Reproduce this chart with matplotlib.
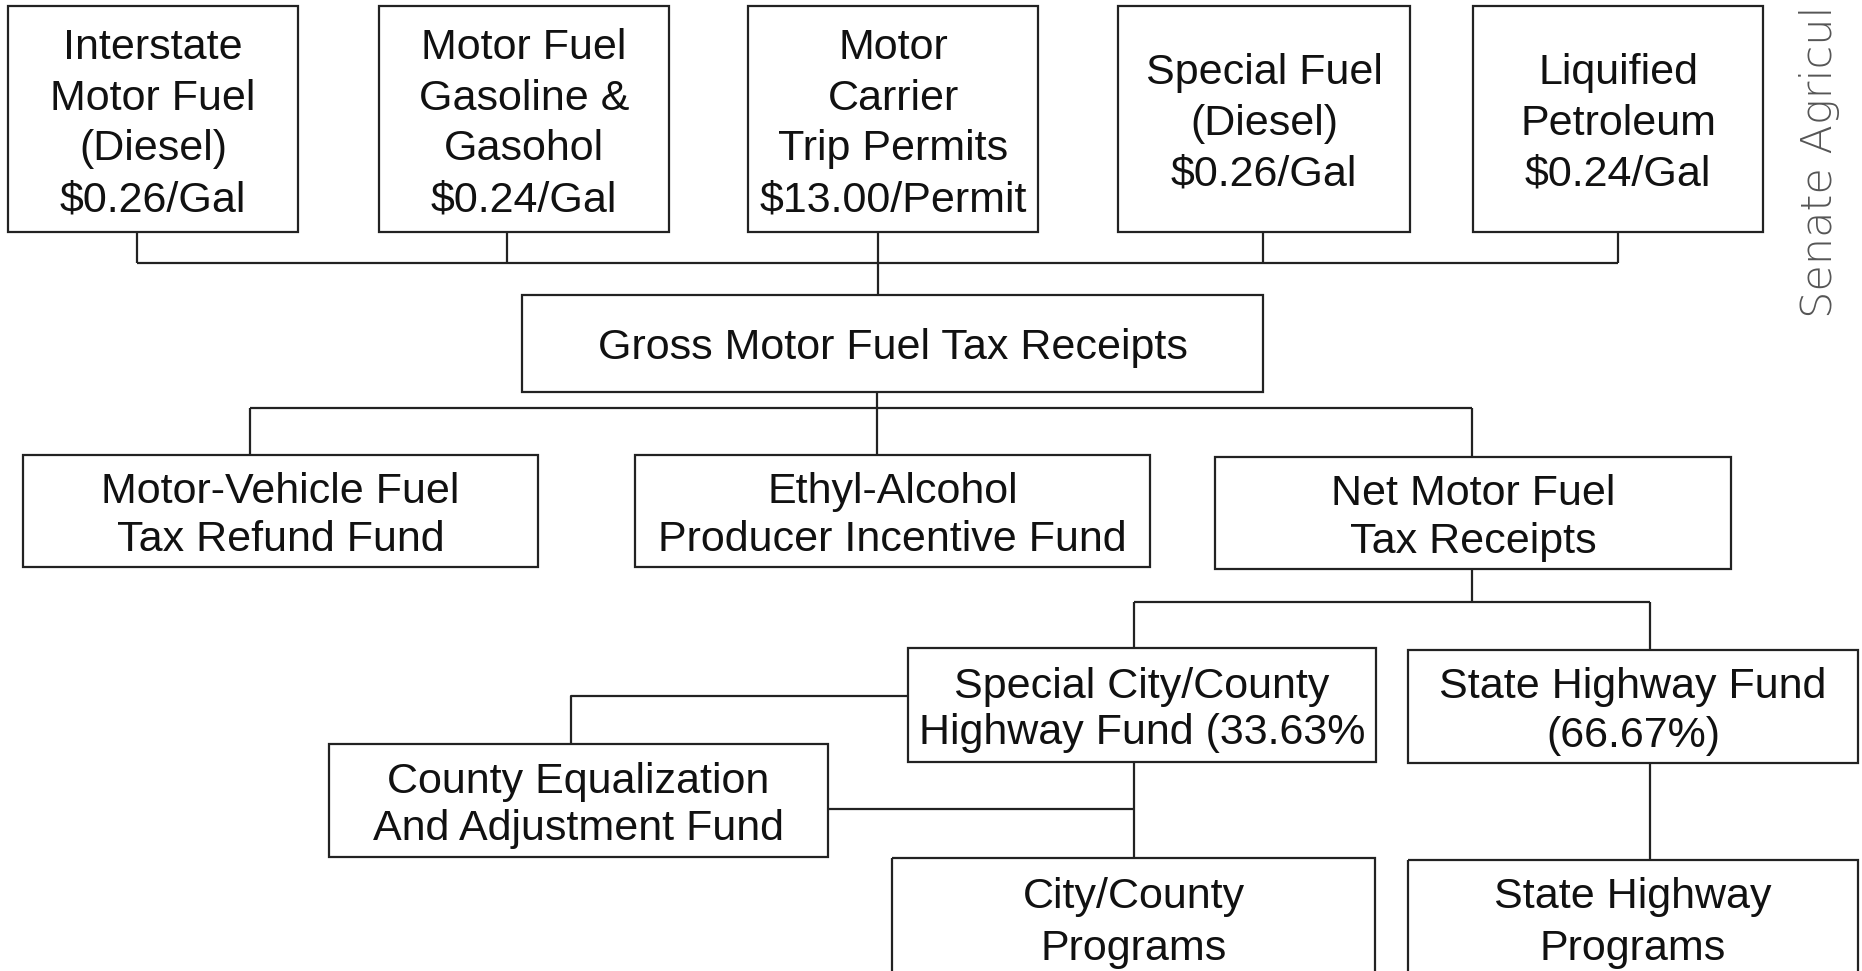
import matplotlib.pyplot as plt
from matplotlib.patches import Rectangle

# box labels, top row first
source_labels = [
    "Interstate\nMotor Fuel\n(Diesel)\n$0.26/Gal",
    "Motor Fuel\nGasoline &\nGasohol\n$0.24/Gal",
    "Motor\nCarrier\nTrip Permits\n$13.00/Permit",
    "Special Fuel\n(Diesel)\n$0.26/Gal",
    "Liquified\nPetroleum\n$0.24/Gal",
]
gross_label = "Gross Motor Fuel Tax Receipts"
split_labels = [
    "Motor-Vehicle Fuel\nTax Refund Fund",
    "Ethyl-Alcohol\nProducer Incentive Fund",
    "Net Motor Fuel\nTax Receipts",
]
fund_labels = [
    "Special City/County\nHighway Fund (33.63%",
    "State Highway Fund\n(66.67%)",
]
county_label = "County Equalization\nAnd Adjustment Fund"
program_labels = [
    "City/County\nPrograms",
    "State Highway\nPrograms",
]
note_text = "Senate Agricul"

# layout in pixels (x0, y0, x1, y1), y downward
source_boxes = [(8, 6, 298, 232), (379, 6, 669, 232), (748, 6, 1038, 232),
                (1118, 6, 1410, 232), (1473, 6, 1763, 232)]
gross_box = (522, 295, 1263, 392)
split_boxes = [(23, 455, 538, 567), (635, 455, 1150, 567), (1215, 457, 1731, 569)]
fund_boxes = [(908, 648, 1376, 762), (1408, 650, 1858, 763)]
county_box = (329, 744, 828, 857)
program_boxes = [(892, 858, 1375, 990), (1408, 860, 1858, 990)]
program_text_y = 918

connectors = [
    [(137, 263), (1618, 263)],
    [(137, 232), (137, 263)],
    [(507, 232), (507, 263)],
    [(878, 232), (878, 295)],
    [(1263, 232), (1263, 263)],
    [(1618, 232), (1618, 263)],
    [(877, 392), (877, 455)],
    [(250, 408), (1472, 408)],
    [(250, 408), (250, 455)],
    [(1472, 408), (1472, 457)],
    [(1472, 569), (1472, 602)],
    [(1134, 602), (1650, 602)],
    [(1134, 602), (1134, 648)],
    [(1650, 602), (1650, 650)],
    [(908, 696), (571, 696), (571, 744)],
    [(1134, 762), (1134, 858)],
    [(828, 809), (1134, 809)],
    [(1650, 763), (1650, 860)],
]

W, H = 1862, 971
fig = plt.figure(figsize=(W / 100, H / 100), dpi=100)
ax = fig.add_axes([0, 0, 1, 1])
ax.set_xlim(0, W)
ax.set_ylim(H, 0)
ax.axis('off')

line_color = '#222222'
font = dict(family='Liberation Sans', fontsize=31, color='#111111')


def draw_box(b, label, ty=None, ls=1.2):
    x0, y0, x1, y1 = b
    ax.add_patch(Rectangle((x0, y0), x1 - x0, y1 - y0, fill=False,
                           edgecolor=line_color, linewidth=1.6))
    if ty is None:
        ty = (y0 + y1) / 2
    ax.text((x0 + x1) / 2, ty + 5, label, ha='center', va='center',
            multialignment='center', linespacing=ls, **font)


for b, lab in zip(source_boxes, source_labels):
    draw_box(b, lab, ls=1.35)
draw_box(gross_box, gross_label)
for b, lab in zip(split_boxes, split_labels):
    draw_box(b, lab, ls=1.25)
draw_box(fund_boxes[0], fund_labels[0], ls=1.22)
draw_box(fund_boxes[1], fund_labels[1], ls=1.32)
draw_box(county_box, county_label, ls=1.22)
for b, lab in zip(program_boxes, program_labels):
    draw_box(b, lab, ty=program_text_y, ls=1.38)

for path in connectors:
    xs = [p[0] for p in path]
    ys = [p[1] for p in path]
    ax.plot(xs, ys, color=line_color, linewidth=1.6, solid_capstyle='butt')

# handwritten margin note
ax.text(1820, 318, note_text, rotation=90, ha='center', va='bottom',
        family='DejaVu Sans', fontsize=31, color='#555555', fontweight='light')

fig.savefig('out.png', dpi=100)
